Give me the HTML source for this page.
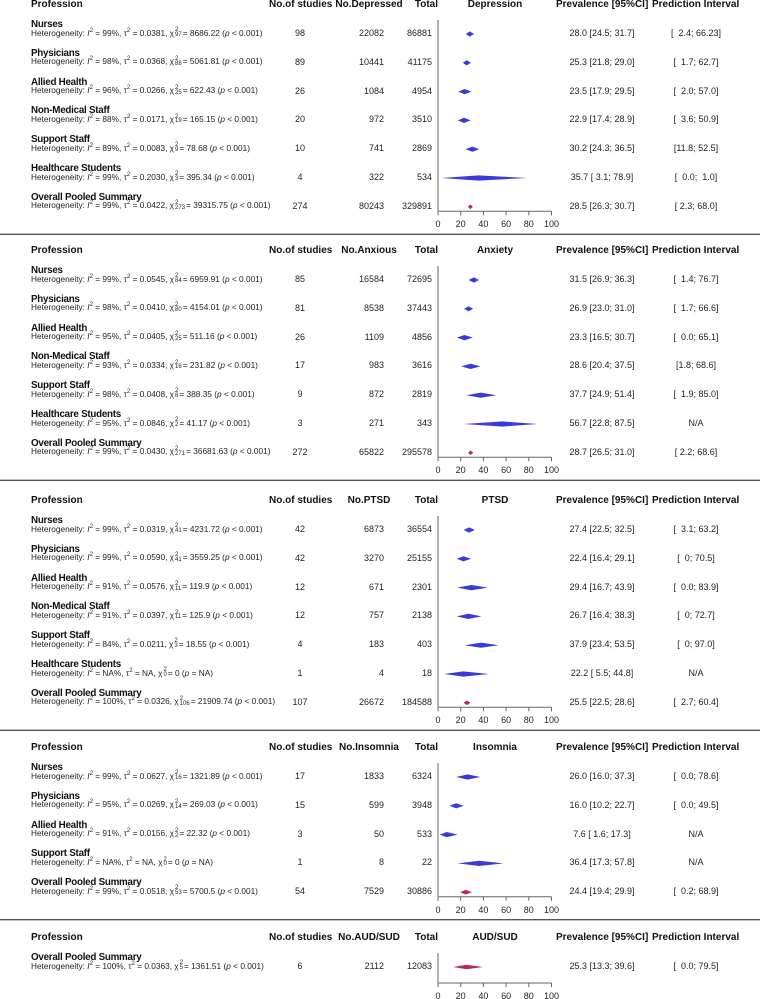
<!DOCTYPE html>
<html><head><meta charset="utf-8">
<style>
html,body{margin:0;padding:0;background:#fff;}
#root{position:relative;width:760px;height:999px;overflow:hidden;font-family:"Liberation Sans",Arial,sans-serif;color:#111;}
.t{position:absolute;white-space:nowrap;line-height:1;}
.hd{font-weight:bold;font-size:10px;}
.nm{font-weight:bold;font-size:9.8px;letter-spacing:-0.25px;}
.het{font-size:8.3px;color:#222;}
.num{font-size:9px;color:#222;}
.c{transform:translateX(-50%);}
.r{transform:translateX(-100%);}
.ss{display:inline-block;vertical-align:middle;line-height:0.8;font-size:6px;text-align:left;margin:0 1px;}
sup{font-size:6px;}
svg{position:absolute;left:0;top:0;}
</style></head>
<body>
<div id="root">
<svg id="g" width="760" height="999"></svg>
</div>
<script>
// ---- data ----
const sectionTitles = ["Depression","Anxiety","PTSD","Insomnia","AUD/SUD"];
const countHeaders = ["No.Depressed","No.Anxious","No.PTSD","No.Insomnia","No.AUD/SUD"];

const depNames = ["Nurses","Physicians","Allied Health","Non-Medical Staff","Support Staff","Healthcare Students","Overall Pooled Summary"];
const depStudies = [98,89,26,20,10,4,274];
const depEvents = [22082,10441,1084,972,741,322,80243];
const depTotals = [86881,41175,4954,3510,2869,534,329891];
const depEst = [28.0,25.3,23.5,22.9,30.2,35.7,28.5];
const depLo = [24.5,21.8,17.9,17.4,24.3,3.1,26.3];
const depHi = [31.7,29.0,29.5,28.9,36.5,78.9,30.7];
const depPred = ["[  2.4; 66.23]","[  1.7; 62.7]","[  2.0; 57.0]","[  3.6; 50.9]","[11.8; 52.5]","[  0.0;  1.0]","[ 2.3; 68.0]"];
const depI2 = ["99","98","96","88","89","99","99"];
const depTau = ["0.0381","0.0368","0.0266","0.0171","0.0083","0.2030","0.0422"];
const depDf = ["97","88","25","19","9","3","273"];
const depQ = ["8686.22","5061.81","622.43","165.15","78.68","395.34","39315.75"];
const depP = ["< 0.001","< 0.001","< 0.001","< 0.001","< 0.001","< 0.001","< 0.001"];

const anxNames = ["Nurses","Physicians","Allied Health","Non-Medical Staff","Support Staff","Healthcare Students","Overall Pooled Summary"];
const anxStudies = [85,81,26,17,9,3,272];
const anxEvents = [16584,8538,1109,983,872,271,65822];
const anxTotals = [72695,37443,4856,3616,2819,343,295578];
const anxEst = [31.5,26.9,23.3,28.6,37.7,56.7,28.7];
const anxLo = [26.9,23.0,16.5,20.4,24.9,22.8,26.5];
const anxHi = [36.3,31.0,30.7,37.5,51.4,87.5,31.0];
const anxPred = ["[  1.4; 76.7]","[  1.7; 66.6]","[  0.0; 65.1]","[1.8; 68.6]","[  1.9; 85.0]","N/A","[ 2.2; 68.6]"];
const anxI2 = ["99","98","95","93","98","95","99"];
const anxTau = ["0.0545","0.0410","0.0405","0.0334","0.0408","0.0846","0.0430"];
const anxDf = ["84","80","25","16","8","2","271"];
const anxQ = ["6959.91","4154.01","511.16","231.82","388.35","41.17","36681.63"];
const anxP = ["< 0.001","< 0.001","< 0.001","< 0.001","< 0.001","< 0.001","< 0.001"];

const ptsdNames = ["Nurses","Physicians","Allied Health","Non-Medical Staff","Support Staff","Healthcare Students","Overall Pooled Summary"];
const ptsdStudies = [42,42,12,12,4,1,107];
const ptsdEvents = [6873,3270,671,757,183,4,26672];
const ptsdTotals = [36554,25155,2301,2138,403,18,184588];
const ptsdEst = [27.4,22.4,29.4,26.7,37.9,22.2,25.5];
const ptsdLo = [22.5,16.4,16.7,16.4,23.4,5.5,22.5];
const ptsdHi = [32.5,29.1,43.9,38.3,53.5,44.8,28.6];
const ptsdPred = ["[  3.1; 63.2]","[  0; 70.5]","[  0.0; 83.9]","[  0; 72.7]","[  0; 97.0]","N/A","[  2.7; 60.4]"];
const ptsdI2 = ["99","99","91","91","84","NA","100"];
const ptsdTau = ["0.0319","0.0590","0.0576","0.0397","0.0211","NA","0.0326"];
const ptsdDf = ["41","41","11","11","3","0","106"];
const ptsdQ = ["4231.72","3559.25","119.9","125.9","18.55","0","21909.74"];
const ptsdP = ["< 0.001","< 0.001","< 0.001","< 0.001","< 0.001","= NA","< 0.001"];

const insNames = ["Nurses","Physicians","Allied Health","Support Staff","Overall Pooled Summary"];
const insStudies = [17,15,3,1,54];
const insEvents = [1833,599,50,8,7529];
const insTotals = [6324,3948,533,22,30886];
const insEst = [26.0,16.0,7.6,36.4,24.4];
const insLo = [16.0,10.2,1.6,17.3,19.4];
const insHi = [37.3,22.7,17.3,57.8,29.9];
const insPred = ["[  0.0; 78.6]","[  0.0; 49.5]","N/A","N/A","[  0.2; 68.9]"];
const insI2 = ["99","95","91","NA","99"];
const insTau = ["0.0627","0.0269","0.0156","NA","0.0518"];
const insDf = ["16","14","2","0","53"];
const insQ = ["1321.89","269.03","22.32","0","5700.5"];
const insP = ["< 0.001","< 0.001","< 0.001","= NA","< 0.001"];

const audNames = ["Overall Pooled Summary"];
const audStudies = [6];
const audEvents = [2112];
const audTotals = [12083];
const audEst = [25.3];
const audLo = [13.3];
const audHi = [39.6];
const audPred = ["[  0.0; 79.5]"];
const audI2 = ["100"];
const audTau = ["0.0363"];
const audDf = ["5"];
const audQ = ["1361.51"];
const audP = ["< 0.001"];

const tickValues = [0,20,40,60,80,100];

const sections = [
 {n:depNames,s:depStudies,e:depEvents,t:depTotals,est:depEst,lo:depLo,hi:depHi,pr:depPred,i2:depI2,tau:depTau,df:depDf,q:depQ,p:depP},
 {n:anxNames,s:anxStudies,e:anxEvents,t:anxTotals,est:anxEst,lo:anxLo,hi:anxHi,pr:anxPred,i2:anxI2,tau:anxTau,df:anxDf,q:anxQ,p:anxP},
 {n:ptsdNames,s:ptsdStudies,e:ptsdEvents,t:ptsdTotals,est:ptsdEst,lo:ptsdLo,hi:ptsdHi,pr:ptsdPred,i2:ptsdI2,tau:ptsdTau,df:ptsdDf,q:ptsdQ,p:ptsdP},
 {n:insNames,s:insStudies,e:insEvents,t:insTotals,est:insEst,lo:insLo,hi:insHi,pr:insPred,i2:insI2,tau:insTau,df:insDf,q:insQ,p:insP},
 {n:audNames,s:audStudies,e:audEvents,t:audTotals,est:audEst,lo:audLo,hi:audHi,pr:audPred,i2:audI2,tau:audTau,df:audDf,q:audQ,p:audP}
];
const headerY = [5,251,501,748,938];

// ---- layout ----
const root = document.getElementById('root');
const svg = document.getElementById('g');
const NS = 'http://www.w3.org/2000/svg';
const X0 = 438, X1 = 551.5;
function xs(v){ return X0 + (v/100)*(X1-X0); }

function txt(cls, x, y, html, name){
  const d = document.createElement('div');
  d.className = 't ' + cls;
  d.style.left = x + 'px';
  d.style.top = y + 'px';
  d.innerHTML = html;
  
  
  root.appendChild(d);
  return d;
}
function line(x1,y1,x2,y2,col,w,name){
  const l = document.createElementNS(NS,'line');
  l.setAttribute('x1',x1);l.setAttribute('y1',y1);l.setAttribute('x2',x2);l.setAttribute('y2',y2);
  l.setAttribute('stroke',col);l.setAttribute('stroke-width',w);
  
  
  svg.appendChild(l);
}

sections.forEach((S, k) => {
  const H = headerY[k];
  const hy = H - 5;
  const key = sectionTitles[k].toLowerCase().replace('/','-');
  txt('hd', 31, hy, 'Profession', 'profession-header');
  txt('hd', 269, hy, 'No.of studies', 'studies-header');
  txt('hd c', 369, hy, countHeaders[k], 'count-header');
  txt('hd r', 438, hy, 'Total', 'total-header');
  txt('hd c', 495, hy, sectionTitles[k], key + '-plot-title');
  txt('hd', 556, hy, 'Prevalence [95%CI]', 'prevalence-header');
  txt('hd', 652, hy, 'Prediction Interval', 'prediction-header');
  const n = S.n.length;
  let lastY = 0;
  for (let i = 0; i < n; i++) {
    const y = H + 29 + i * 28.8;
    lastY = y;
    txt('nm', 31, y - 14, S.n[i], 'row-name');
    const het = 'Heterogeneity: <i>I</i><sup>2</sup> = ' + S.i2[i] + '%, τ<sup>2</sup> = ' + S.tau[i] +
      ', χ<span class="ss">2<br>' + S.df[i] + '</span>= ' + S.q[i] + ' (<i>p</i> ' + S.p[i].replace('<','&lt;') + ')';
    txt('het', 31, y - 6.5, het, 'heterogeneity-text');
    txt('num c', 300, y - 5, S.s[i], 'studies-value');
    txt('num r', 384, y - 5, S.e[i], 'count-value');
    txt('num r', 432, y - 5, S.t[i], 'total-value');
    const lo = S.lo[i].toFixed(1), hi = S.hi[i].toFixed(1);
    const ci = S.est[i].toFixed(1) + ' [' + (S.lo[i] < 10 ? '\u00a0' : '') + lo + '; ' + hi + ']';
    txt('num c', 602, y - 5, ci, 'prevalence-value');
    txt('num c', 696, y - 5, S.pr[i].replace(/ /g,'\u00a0'), 'prediction-value');
    const overall = S.n[i] === 'Overall Pooled Summary';
    const h = overall ? 2.3 : 2.6;
    const p = document.createElementNS(NS,'polygon');
    p.setAttribute('points', xs(S.lo[i]) + ',' + y + ' ' + xs(S.est[i]) + ',' + (y-h) + ' ' + xs(S.hi[i]) + ',' + y + ' ' + xs(S.est[i]) + ',' + (y+h));
    p.setAttribute('fill', overall ? '#b8285e' : '#3a3ad6');
    
    
    svg.appendChild(p);
  }
  const ay = (k === 4) ? lastY + 16 : lastY + 4.5;
  line(X0, H + 15, X0, ay, '#666', 1, 'vertical-axis');
  line(X0, ay, X1, ay, '#666', 1, 'x-axis');
  tickValues.forEach(v => {
    line(xs(v), ay, xs(v), ay + 4, '#666', 1, 'x-tick');
    txt('num c', xs(v), ay + 9, v, 'x-tick-label');
  });
  if (k < 4) line(0, ay + 23, 760, ay + 23, '#555', 1.3, 'section-divider');
});
</script>
</body></html>
